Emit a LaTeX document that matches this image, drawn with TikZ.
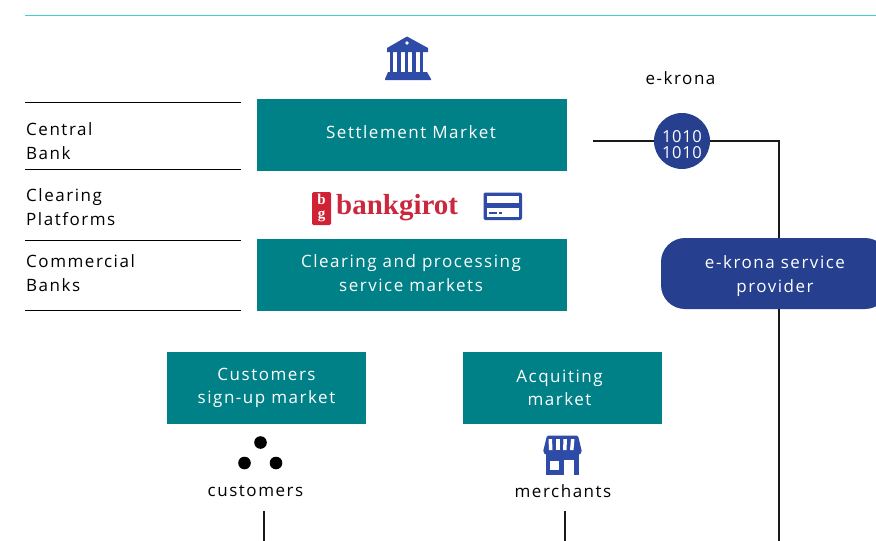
\documentclass[tikz,border=0pt]{standalone}
\usepackage{fontspec}
\setmainfont[LetterSpace=9]{Open Sans}
\newfontfamily\logofont{Liberation Serif}
\usetikzlibrary{arrows,positioning}
\definecolor{tealbox}{HTML}{008187}
\definecolor{bluebox}{HTML}{26408F}
\definecolor{iconblue}{HTML}{2F4BA8}
\definecolor{ruleteal}{HTML}{45CDD6}
\definecolor{logored}{HTML}{C9283E}
\tikzset{
	market/.style={fill=tealbox,text=white,align=center,minimum height=72pt,font=\fontsize{17}{23.5}\selectfont},
	layer/.style={align=left,anchor=west,inner sep=0pt,font=\fontsize{17}{24}\selectfont},
	caption/.style={inner sep=0pt,font=\fontsize{17}{18}\selectfont},
	rule/.style={line width=0.8pt,black},
	wire/.style={line width=1.4pt,black!90}
}
\begin{document}
\begin{tikzpicture}[x=1pt,y=-1pt,node distance=140pt]
	\useasboundingbox (0,0) rectangle (876,541);

	\node	[market,minimum width=310pt]	(settle)						at (412,135)	{Settlement Market\hspace*{2pt}\rule[-6pt]{0pt}{0pt}};
	\node	[market,minimum width=310pt]	(clearing)	[below of=settle]					{Clearing and processing\hspace*{2pt} \\ service markets\hspace*{2pt}\rule[-4pt]{0pt}{0pt}};
	\node	[market,minimum width=199pt]	(signup)						at (266.5,388)	{Customers \\ sign-up market};
	\node	[market,minimum width=199pt]	(acquiring)	[right of=signup,xshift=156pt]		{Acquiting\hspace*{6pt} \\ market\hspace*{6pt}};

	\node	[circle,fill=bluebox,text=white,minimum size=56pt,inner sep=0pt,align=center,font=\fontsize{16.5}{16}\selectfont\addfontfeature{LetterSpace=4}]	(ebits)	at (682,141)	{\rule{0pt}{20pt}1010 \\ 1010};
	\node	[fill=bluebox,text=white,rounded corners=24pt,minimum width=228pt,minimum height=71pt,inner sep=0pt,align=center,font=\fontsize{17}{24}\selectfont]	(provider)	at (775,273.5)	{\rule{0pt}{19pt}e-krona service \\ provider};
	\node	[caption]	(ekrona)	at (680.5,78)	{e-krona};
	\node	[caption]	(customers)	at (255.5,491)	{customers};
	\node	[caption]	(merchants)	at (563,491)	{merchants};

	\node	[layer]	(central)		at (26,141)		{Central \\ Bank};
	\node	[layer]	(platforms)		at (26,207)		{Clearing \\ Platforms};
	\node	[layer]	(commercial)	at (26,273)		{Commercial \\ Banks};

	\coordinate	(wirestart)	at (593,141);
	\coordinate	(wirecorner)	at (779,141);
	\coordinate	(wireend)	at (779,541);
	\coordinate	(custtop)	at (264,511);
	\coordinate	(custend)	at (264,541);
	\coordinate	(merchtop)	at (565,511);
	\coordinate	(merchend)	at (565,541);

	\draw	[wire]	(wirestart)	--	(ebits);
	\draw	[wire]	(ebits)	--	(wirecorner)	--	(wirecorner |- provider.north);
	\draw	[wire]	(wirecorner |- provider.south)	--	(wireend);
	\draw	[wire]	(custtop)	--	(custend);
	\draw	[wire]	(merchtop)	--	(merchend);

	\draw	[ruleteal,line width=1.2pt]	(25,15.5)	--	(876,15.5);
	\foreach \y in {102,169,240,310}
		\draw	[rule]	(25,\y)	--	(241,\y);

	% bank icon
	\fill	[iconblue]	(407,36.5)	--	(428,48)	--	(428,52)	--	(387,52)	--	(387,48)	--	cycle;
	\fill	[white]	(407,43)	circle	(1.8);
	\foreach \x in {389.5,397,404.5,412,419.5}
		\fill	[iconblue]	(\x,52)	rectangle	+(3.5,21);
	\fill	[iconblue]	(388,72)	--	(427,72)	--	(431,79)	--	(431,80)	--	(385,80)	--	(385,79)	--	cycle;

	% logo
	\fill	[logored!85!red,rounded corners=1.5pt]	(312,192)	rectangle	(331,225);
	\node	[text=white,inner sep=0pt,font=\logofont\bfseries\fontsize{15}{14}\selectfont,align=center]	(bglogo)	at (321.5,208)	{b\\g};
	\node	[text=logored,inner sep=0pt,anchor=west,font=\logofont\bfseries\fontsize{29}{29}\selectfont]	(bankgirot)	at (336,207.5)	{bankgirot};

	% card icon
	\fill	[iconblue,rounded corners=2pt]	(483.5,192.5)	rectangle	(522,220);
	\fill	[white]	(486.5,195.5)	rectangle	(519,203);
	\fill	[white]	(486.5,208)	rectangle	(519,217);
	\fill	[iconblue]	(489,211.5)	rectangle	(497,214);
	\fill	[iconblue]	(499,211.5)	rectangle	(502,214);

	% customer dots
	\foreach \x/\y in {260.5/442.5,244.5/463,276/463}
		\fill	(\x,\y)	circle	(6.3);

	% store icon
	\fill	[iconblue]	(546,450)	rectangle	(579,475);
	\fill	[white]	(549.5,461)	rectangle	(559,469.5);
	\fill	[white]	(564,460)	rectangle	(574,475);
	\fill	[iconblue,rounded corners=1.5pt]	(547,435.5)	--	(578,435.5)	--	(582,452)	--	(579,455)	--	(546,455)	--	(543,452)	--	cycle;
	\foreach \x/\t in {549.5/548.5,556.5/556,563.5/563.5,570.5/571}
		\fill	[white]	(\t,439)	--	(\t+3.5,439)	--	(\x+3,450)	--	(\x-0.5,450)	--	cycle;
\end{tikzpicture}
\end{document}
